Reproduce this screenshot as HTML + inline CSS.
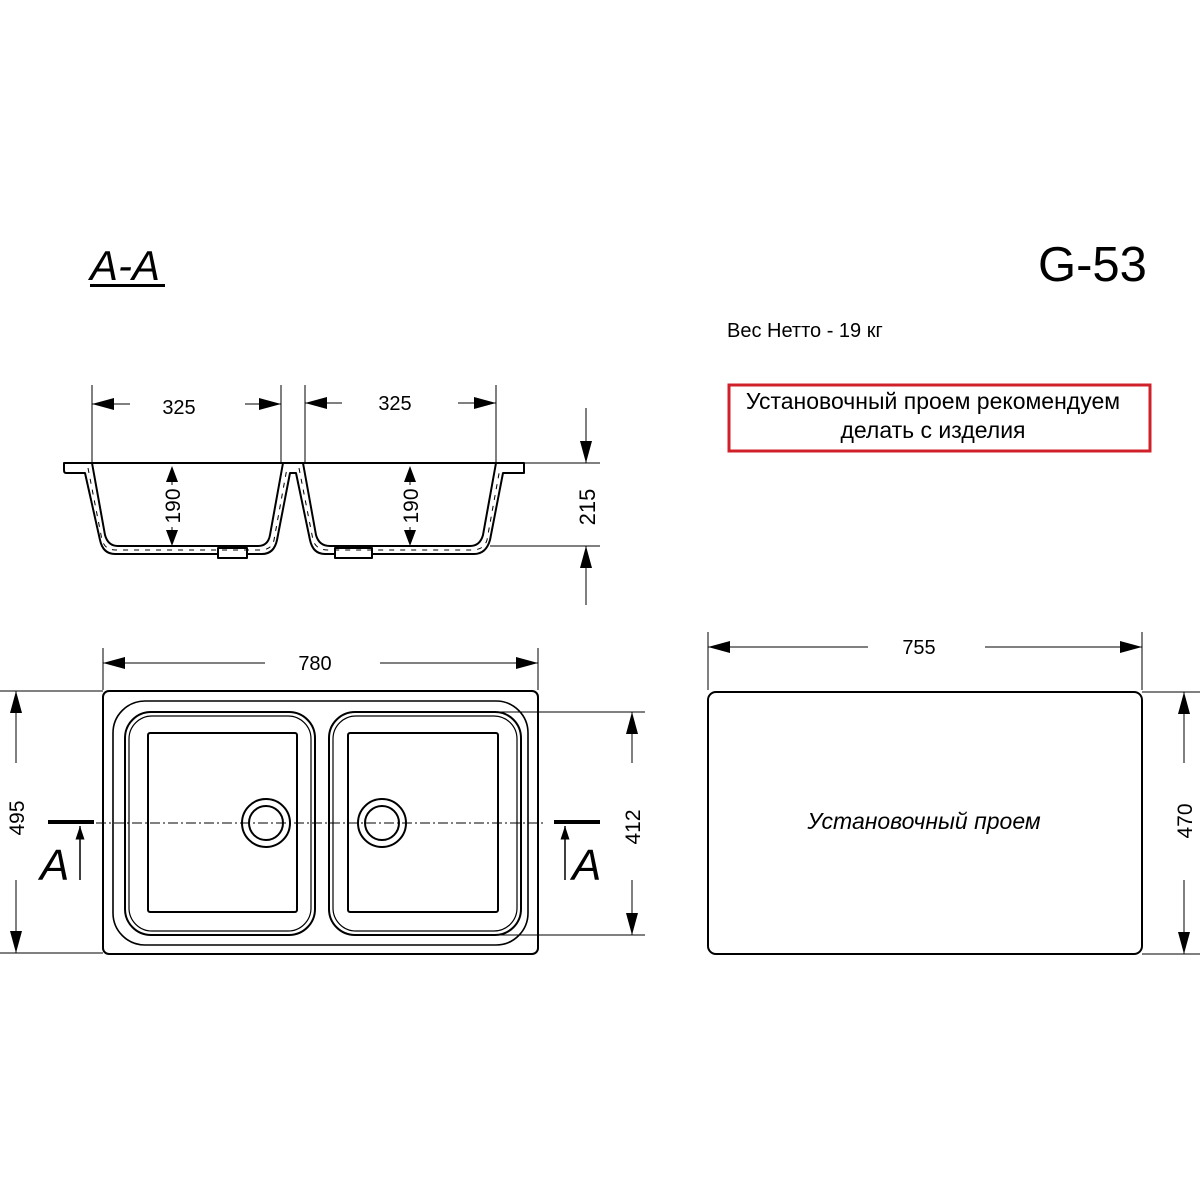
<!DOCTYPE html>
<html><head><meta charset="utf-8"><style>
html,body{margin:0;padding:0;background:#fff}
svg{display:block}
text{font-family:"Liberation Sans",sans-serif;fill:#000}
</style></head><body>
<svg width="1200" height="1200" viewBox="0 0 1200 1200" xmlns="http://www.w3.org/2000/svg">
<defs>
<marker id="ar" viewBox="0 0 12 8" refX="12" refY="4" markerWidth="14" markerHeight="9" orient="auto" markerUnits="userSpaceOnUse">
<path d="M0,0 L12,4 L0,8 Z" fill="#000"/>
</marker>
<marker id="arL" viewBox="0 0 22 12" refX="22" refY="6" markerWidth="22" markerHeight="12" orient="auto" markerUnits="userSpaceOnUse">
<path d="M0,0 L22,6 L0,12 Z" fill="#000"/>
</marker>
</defs>

<!-- titles -->
<text x="90" y="280" font-size="42" font-style="italic">A-A</text>
<rect x="90" y="284" width="75" height="3" fill="#000"/>
<text x="1038" y="281" font-size="49">G-53</text>
<text x="727" y="337" font-size="20">Вес Нетто - 19 кг</text>
<rect x="729" y="385" width="421" height="66" fill="none" stroke="#d0202a" stroke-width="3"/>
<text x="933" y="409" font-size="23" text-anchor="middle">Установочный проем рекомендуем</text>
<text x="933" y="438" font-size="23" text-anchor="middle">делать с изделия</text>

<!-- section view -->
<g stroke="#000" fill="none" stroke-width="1">
<line x1="92" y1="385" x2="92" y2="462"/>
<line x1="281" y1="385" x2="281" y2="462"/>
<line x1="305" y1="385" x2="305" y2="462"/>
<line x1="496" y1="385" x2="496" y2="462"/>
<line x1="130" y1="404" x2="92" y2="404" marker-end="url(#arL)"/>
<line x1="245" y1="404" x2="281" y2="404" marker-end="url(#arL)"/>
<line x1="342" y1="403" x2="305" y2="403" marker-end="url(#arL)"/>
<line x1="458" y1="403" x2="496" y2="403" marker-end="url(#arL)"/>
<line x1="524" y1="463" x2="600" y2="463"/>
<line x1="490" y1="546" x2="600" y2="546"/>
<line x1="586" y1="408" x2="586" y2="463" marker-end="url(#arL)"/>
<line x1="586" y1="605" x2="586" y2="546" marker-end="url(#arL)"/>
</g>
<text x="179" y="414" font-size="20" text-anchor="middle">325</text>
<text x="395" y="410" font-size="20" text-anchor="middle">325</text>
<text transform="translate(595,507) rotate(-90)" font-size="22" text-anchor="middle">215</text>

<g stroke="#000" fill="#fff" stroke-width="2" stroke-linejoin="round">
<path d="M64,463 L524,463 L524,473 L503,473 L490,540 Q486,554 474,554 L325,554 Q313,554 310,540 L296,473 L290,473 L277,540 Q274,554 262,554 L115,554 Q103,554 100,540 L85,473 L66,473 Q64,473 64,470 Z"/>
<path d="M92,463 L105,535 Q108,546 118,546 L258,546 Q268,546 270,535 L283,463 M303,463 L316,535 Q319,546 330,546 L470,546 Q480,546 483,535 L496,463" fill="none"/>
<rect x="218" y="548" width="29" height="10"/>
<rect x="335" y="548" width="37" height="10"/>
</g>
<g stroke="#000" stroke-width="1" stroke-dasharray="5 6" fill="none">
<path d="M88,468 L102,540 Q105,550 116,550 L260,550 Q272,550 274,540 L287,468"/>
<path d="M299,468 L313,540 Q316,550 328,550 L472,550 Q484,550 487,540 L500,468"/>
</g>
<g stroke="#000" stroke-width="1">
<line x1="172" y1="480" x2="172" y2="534"/>
<line x1="410" y1="480" x2="410" y2="534"/>
</g>
<path d="M172,466 L178,482 L166,482 Z M172,546 L178,530 L166,530 Z M410,466 L416,482 L404,482 Z M410,546 L416,530 L404,530 Z" fill="#000"/>
<rect x="160" y="485" width="24" height="42" fill="#fff"/>
<rect x="398" y="485" width="24" height="42" fill="#fff"/>
<text transform="translate(180,506) rotate(-90)" font-size="21" text-anchor="middle">190</text>
<text transform="translate(418,506) rotate(-90)" font-size="21" text-anchor="middle">190</text>

<!-- top view -->
<g stroke="#000" fill="none" stroke-width="1">
<line x1="103" y1="648" x2="103" y2="690"/>
<line x1="538" y1="648" x2="538" y2="690"/>
<line x1="265" y1="663" x2="103" y2="663" marker-end="url(#arL)"/>
<line x1="380" y1="663" x2="538" y2="663" marker-end="url(#arL)"/>
<line x1="0" y1="691" x2="103" y2="691"/>
<line x1="0" y1="953" x2="103" y2="953"/>
<line x1="16" y1="763" x2="16" y2="691" marker-end="url(#arL)"/>
<line x1="16" y1="880" x2="16" y2="953" marker-end="url(#arL)"/>
<line x1="470" y1="712" x2="645" y2="712"/>
<line x1="498" y1="935" x2="645" y2="935"/>
<line x1="632" y1="763" x2="632" y2="712" marker-end="url(#arL)"/>
<line x1="632" y1="880" x2="632" y2="935" marker-end="url(#arL)"/>
<line x1="96" y1="823" x2="546" y2="823" stroke-dasharray="10 3 2 3"/>
<line x1="80" y1="880" x2="80" y2="826" marker-end="url(#ar)" stroke-width="1.5"/>
<line x1="565" y1="880" x2="565" y2="826" marker-end="url(#ar)" stroke-width="1.5"/>
</g>
<text transform="translate(24,818) rotate(-90)" font-size="21" text-anchor="middle">495</text>
<text transform="translate(640,827) rotate(-90)" font-size="21" text-anchor="middle">412</text>
<text x="315" y="670" font-size="20" text-anchor="middle">780</text>
<rect x="48" y="820" width="46" height="4" fill="#000"/>
<rect x="554" y="820" width="46" height="4" fill="#000"/>
<text x="40" y="880" font-size="44" font-style="italic">A</text>
<text x="572" y="880" font-size="44" font-style="italic">A</text>

<g stroke="#000" fill="none" stroke-width="2">
<rect x="103" y="691" width="435" height="263" rx="6"/>
<rect x="113" y="701" width="415" height="244" rx="32" stroke-width="1.6"/>
<rect x="125" y="712" width="190" height="223" rx="26"/>
<rect x="129" y="716" width="182" height="215" rx="23" stroke-width="1.2"/>
<rect x="148" y="733" width="149" height="179" rx="2"/>
<rect x="329" y="712" width="192" height="223" rx="26"/>
<rect x="333" y="716" width="184" height="215" rx="23" stroke-width="1.2"/>
<rect x="348" y="733" width="150" height="179" rx="2"/>
<circle cx="266" cy="823" r="24"/>
<circle cx="266" cy="823" r="17"/>
<circle cx="382" cy="823" r="24"/>
<circle cx="382" cy="823" r="17"/>
</g>

<!-- right view -->
<g stroke="#000" fill="none" stroke-width="1">
<line x1="708" y1="632" x2="708" y2="690"/>
<line x1="1142" y1="632" x2="1142" y2="690"/>
<line x1="868" y1="647" x2="708" y2="647" marker-end="url(#arL)"/>
<line x1="985" y1="647" x2="1142" y2="647" marker-end="url(#arL)"/>
<line x1="1142" y1="692" x2="1200" y2="692"/>
<line x1="1142" y1="954" x2="1200" y2="954"/>
<line x1="1184" y1="763" x2="1184" y2="692" marker-end="url(#arL)"/>
<line x1="1184" y1="880" x2="1184" y2="954" marker-end="url(#arL)"/>
</g>
<rect x="708" y="692" width="434" height="262" rx="8" fill="none" stroke="#000" stroke-width="2"/>
<text x="919" y="654" font-size="20" text-anchor="middle">755</text>
<text transform="translate(1192,821) rotate(-90)" font-size="21" text-anchor="middle">470</text>
<text x="924" y="829" font-size="23" font-style="italic" text-anchor="middle">Установочный проем</text>
</svg>
</body></html>
